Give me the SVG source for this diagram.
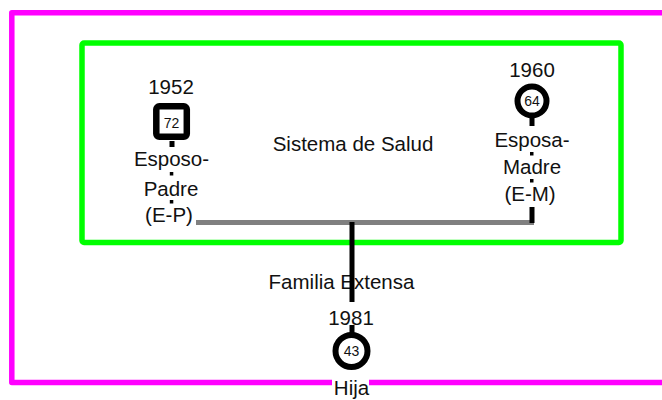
<svg xmlns="http://www.w3.org/2000/svg" width="662" height="400" viewBox="0 0 662 400">
<style>
text{font-family:"Liberation Sans",Arial,sans-serif;fill:#111;text-anchor:middle}
.lbl{font-size:20.5px}
.age{font-size:14px}
.frame{fill:none;stroke-linejoin:round}
.ln{fill:#000}
</style>
<rect width="662" height="400" fill="#fff"/>
<g id="familia-extensa">
<path class="frame" d="M662 12.7 H11.8 V382.5 H332 M369 382.5 H662" stroke="#ff00ff" stroke-width="5.5"/>
<text class="lbl" x="341.5" y="289">Familia Extensa</text>
</g>
<g id="sistema-salud">
<rect class="frame" x="82" y="43" width="539" height="199.5" rx="2" stroke="#00ff00" stroke-width="5.5"/>
<text class="lbl" x="353" y="150.5">Sistema de Salud</text>
</g>
<g id="connectors">
<line x1="196" y1="222.5" x2="534" y2="222.5" stroke="#808080" stroke-width="5"/>
<rect class="ln" x="169.5" y="141" width="5" height="6"/>
<rect class="ln" x="169.8" y="172" width="3.5" height="3.5"/>
<rect class="ln" x="169.8" y="200" width="3.5" height="3.5"/>
<rect class="ln" x="529.5" y="116" width="5" height="10"/>
<rect class="ln" x="530" y="152" width="3.5" height="3.5"/>
<rect class="ln" x="530" y="179" width="3.5" height="3.5"/>
<rect class="ln" x="349.5" y="325" width="5" height="8"/>
</g>
<g id="esposo-padre">
<text class="lbl" x="171" y="94">1952</text>
<rect x="156.3" y="106.3" width="30.5" height="30.5" rx="3" fill="#fff" stroke="#000" stroke-width="6.5"/>
<text class="age" x="171.5" y="128">72</text>
<text class="lbl" x="171.5" y="166">Esposo-</text>
<text class="lbl" x="171" y="195.5">Padre</text>
<text class="lbl" x="169" y="222">(E-P)</text>
</g>
<g id="esposa-madre">
<text class="lbl" x="532" y="77">1960</text>
<circle cx="532" cy="101" r="14.5" fill="#fff" stroke="#000" stroke-width="6"/>
<text class="age" x="532" y="106">64</text>
<text class="lbl" x="532" y="147">Esposa-</text>
<text class="lbl" x="532" y="174">Madre</text>
<text class="lbl" x="530" y="201">(E-M)</text>
<rect class="ln" x="529.5" y="207" width="5" height="16"/>
</g>
<g id="hija">
<rect class="ln" x="349.5" y="222" width="5" height="80"/>
<text class="lbl" x="351" y="325">1981</text>
<circle cx="351.5" cy="351" r="16" fill="#fff" stroke="#000" stroke-width="6"/>
<text class="age" x="351.5" y="356">43</text>
<text class="lbl" x="351.5" y="395">Hija</text>
</g>
</svg>
